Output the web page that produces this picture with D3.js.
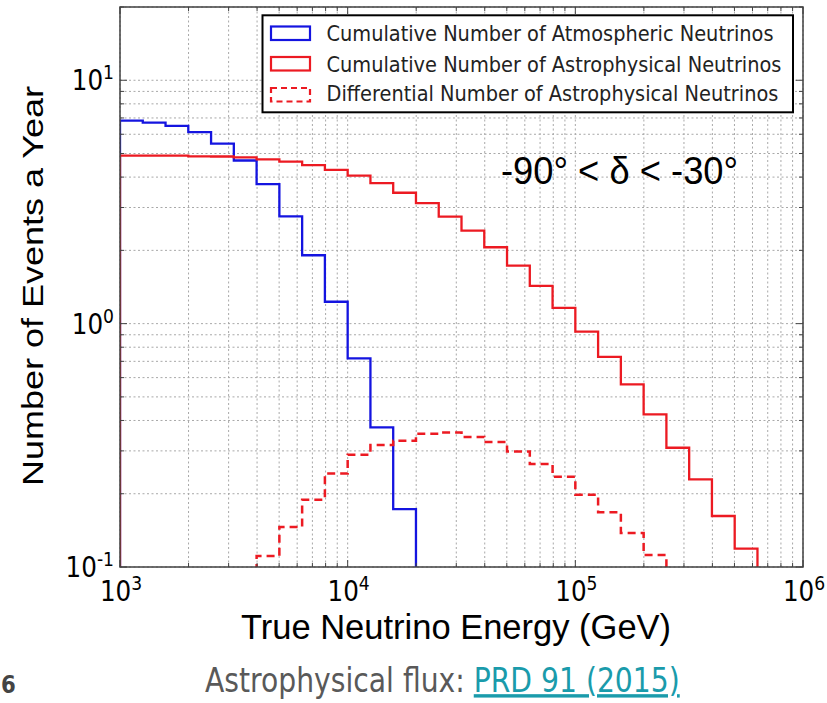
<!DOCTYPE html>
<html>
<head>
<meta charset="utf-8">
<script src="https://cdn.jsdelivr.net/npm/d3@7"></script>
<style>
  html, body { margin: 0; padding: 0; background: #ffffff; }
  svg { display: block; }
</style>
</head>
<body>
<svg id="chart" width="827" height="703"></svg>
<script>
// ---------------- DATA ----------------
// Energy bin edges (GeV), 10 bins per decade
const binEdges = [1000, 1259, 1585, 1995, 2512, 3162, 3981, 5012, 6310, 7943,
  10000, 12589, 15849, 19953, 25119, 31623, 39811, 50119, 63096, 79433,
  100000, 125893, 158489, 199526, 251189, 316228, 398107, 501187, 630957];

// Cumulative number of atmospheric neutrinos (per bin, from first bin)
const atmoCumulative = [6.83, 6.70, 6.49, 6.12, 5.49, 4.68, 3.74, 2.76, 1.91, 1.23,
  0.72, 0.375, 0.173];

// Cumulative number of astrophysical neutrinos
const astroCumulative = [4.90, 4.90, 4.90, 4.87, 4.86, 4.82, 4.73, 4.63, 4.48, 4.28,
  4.06, 3.78, 3.45, 3.13, 2.75, 2.41, 2.06, 1.73, 1.43, 1.16,
  0.927, 0.730, 0.563, 0.424, 0.309, 0.229, 0.162, 0.119];

// Differential number of astrophysical neutrinos (null = no entry)
const astroDifferential = [null, null, null, null, null, null, 0.111, 0.146, 0.189, 0.242,
  0.289, 0.317, 0.330, 0.353, 0.357, 0.342, 0.326, 0.298, 0.265, 0.235,
  0.198, 0.168, 0.138, 0.112, null, null, null, null];

const xTickValues = [1e3, 1e4, 1e5, 1e6];
const xTickExps = ["3", "4", "5", "6"];
const yTickValues = [0.1, 1, 10];
const yTickExps = ["-1", "0", "1"];

const legendLabels = [
  "Cumulative Number of Atmospheric Neutrinos",
  "Cumulative Number of Astrophysical Neutrinos",
  "Differential Number of Astrophysical Neutrinos"
];
const xAxisTitle = "True Neutrino Energy (GeV)";
const yAxisTitle = "Number of Events a Year";
const annotation = "-90° < δ < -30°";
const footerText = "Astrophysical flux: ";
const footerLink = "PRD 91 (2015)";
const pageNumber = "6";

// ---------------- LAYOUT ----------------
const L = 120, R = 803, T = 7, B = 567;
const BLUE = "#1414e0", RED = "#ec1a22";

const svg = d3.select("#chart");
const x = d3.scaleLog().domain([1e3, 1e6]).range([L, R]);
const y = d3.scaleLog().domain([0.1, 20]).range([B, T]);

svg.append("defs").append("clipPath").attr("id", "plotclip")
  .append("rect").attr("x", L).attr("y", T).attr("width", R - L).attr("height", B - T);

// grid lines (major + minor)
const grid = svg.append("g");
x.ticks().forEach(v => {
  grid.append("line").attr("x1", x(v)).attr("x2", x(v)).attr("y1", T).attr("y2", B)
    .attr("stroke", "#a8a8a8").attr("stroke-width", 1).attr("stroke-dasharray", "2,2.5");
});
y.ticks().forEach(v => {
  grid.append("line").attr("x1", L).attr("x2", R).attr("y1", y(v)).attr("y2", y(v))
    .attr("stroke", "#a8a8a8").attr("stroke-width", 1).attr("stroke-dasharray", "2,2.5");
});

// step histogram path builder
function stepPath(values) {
  let d = "";
  let i = 0;
  while (i < values.length) {
    if (values[i] == null) { i++; continue; }
    d += `M${x(binEdges[i])},${B + 5}`;
    while (i < values.length && values[i] != null) {
      d += `L${x(binEdges[i])},${y(values[i])}L${x(binEdges[i + 1])},${y(values[i])}`;
      i++;
    }
    d += `L${x(binEdges[i])},${B + 5}`;
  }
  return d;
}

const data = svg.append("g").attr("clip-path", "url(#plotclip)");
data.append("path").attr("d", stepPath(atmoCumulative))
  .attr("fill", "none").attr("stroke", BLUE).attr("stroke-width", 2.3);
data.append("path").attr("d", stepPath(astroCumulative))
  .attr("fill", "none").attr("stroke", RED).attr("stroke-width", 2.3);
data.append("path").attr("d", stepPath(astroDifferential))
  .attr("fill", "none").attr("stroke", RED).attr("stroke-width", 2.5)
  .attr("stroke-dasharray", "8,5");

// ticks on all four sides
const tickG = svg.append("g").attr("stroke", "#444").attr("stroke-width", 1);
x.ticks().forEach(v => {
  const major = xTickValues.includes(v);
  const len = major ? 7 : 4;
  tickG.append("line").attr("x1", x(v)).attr("x2", x(v)).attr("y1", B).attr("y2", B - len);
  tickG.append("line").attr("x1", x(v)).attr("x2", x(v)).attr("y1", T).attr("y2", T + len);
});
y.ticks().forEach(v => {
  const major = yTickValues.some(t => Math.abs(t - v) / t < 1e-6);
  const len = major ? 7 : 4;
  tickG.append("line").attr("x1", L).attr("x2", L + len).attr("y1", y(v)).attr("y2", y(v));
  tickG.append("line").attr("x1", R).attr("x2", R - len).attr("y1", y(v)).attr("y2", y(v));
});

// frame
svg.append("rect").attr("x", L).attr("y", T).attr("width", R - L).attr("height", B - T)
  .attr("fill", "none").attr("stroke", "#404040").attr("stroke-width", 1.5);

// helper for compressed text
function ctext(px, py, sx, sy, str, opts) {
  const t = svg.append("text")
    .attr("transform", `translate(${px},${py}) scale(${sx},${sy})`)
    .attr("font-family", opts.family || "DejaVu Sans")
    .attr("font-size", opts.size)
    .attr("fill", opts.fill || "#000")
    .attr("text-anchor", opts.anchor || "start")
    .text(str);
  if (opts.weight) t.attr("font-weight", opts.weight);
  return t;
}

// power-of-ten tick labels
function powerLabel(px, py, exp, anchor) {
  const t = svg.append("text")
    .attr("transform", `translate(${px},${py}) scale(0.88,1)`)
    .attr("font-family", "DejaVu Sans")
    .attr("font-size", 28)
    .attr("fill", "#000")
    .attr("text-anchor", anchor);
  t.append("tspan").text("10");
  t.append("tspan").attr("font-size", 19.5).attr("dy", -11).text(exp);
}
xTickValues.forEach((v, i) => powerLabel(x(v) + 1, 601, xTickExps[i], "middle"));
yTickValues.forEach((v, i) => powerLabel(114, y(v) + 10, yTickExps[i], "end"));

// axis titles
ctext(456, 639, 1.0, 1, xAxisTitle, { family: "Liberation Sans", size: 34.5, anchor: "middle" });
svg.append("text")
  .attr("transform", "translate(43,286) rotate(-90) scale(1,0.83)")
  .attr("font-family", "Liberation Sans").attr("font-size", 36)
  .attr("text-anchor", "middle").attr("fill", "#000").text(yAxisTitle);

// annotation
ctext(501, 183.5, 0.92, 1, annotation, { family: "Liberation Sans", size: 39.5 });

// legend
const lg = svg.append("g");
lg.append("rect").attr("x", 262.5).attr("y", 15.3).attr("width", 530.5).attr("height", 97)
  .attr("fill", "#fff").attr("stroke", "#000").attr("stroke-width", 2);
const handleY = [26.5, 57, 88];
const baseY = [41.3, 72, 100.8];
const styles = [
  { c: BLUE, dash: null }, { c: RED, dash: null }, { c: RED, dash: "6,4" }
];
legendLabels.forEach((lab, i) => {
  const h = lg.append("rect").attr("x", 271).attr("y", handleY[i]).attr("width", 39).attr("height", 13.5)
    .attr("fill", "none").attr("stroke", styles[i].c).attr("stroke-width", 2.2);
  if (styles[i].dash) h.attr("stroke-dasharray", styles[i].dash);
  ctext(326.5, baseY[i], 0.88, 1, lab, { size: 22, fill: "#222" });
});

// footer
ctext(1, 693, 0.85, 1, pageNumber, { size: 25, fill: "#444", weight: "bold" });
const ft = svg.append("text")
  .attr("transform", "translate(205,692) scale(0.83,1)")
  .attr("font-family", "DejaVu Sans").attr("font-size", 34);
ft.append("tspan").attr("fill", "#595959").text(footerText);
ft.append("tspan").attr("fill", "#1a9bab").attr("text-decoration", "underline").text(footerLink);
</script>
</body>
</html>
